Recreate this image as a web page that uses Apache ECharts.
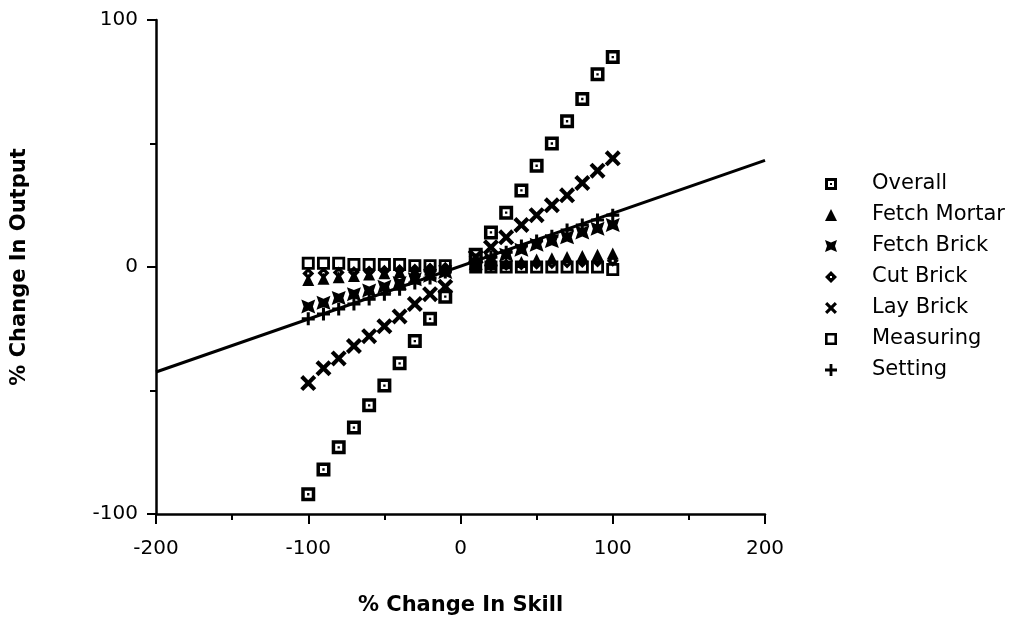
<!DOCTYPE html>
<html>
<head>
<meta charset="utf-8">
<script src="https://cdn.jsdelivr.net/npm/echarts@6/dist/echarts.min.js"></script>
<style>
  html, body { margin: 0; padding: 0; background: #fff; }
  #chart { width: 1016px; height: 619px; }
</style>
</head>
<body>
<div id="chart"></div>
<script>
// % change in skill for each task (x positions)
const skill = [-100, -90, -80, -70, -60, -50, -40, -30, -20, -10,
               10, 20, 30, 40, 50, 60, 70, 80, 90, 100];

// % change in output for each task
const overall     = [-92, -82, -73, -65, -56, -48, -39, -30, -21, -12,
                     5, 14, 22, 31, 41, 50, 59, 68, 78, 85];
const fetchMortar = [-5.3, -4.8, -4.2, -3.6, -3, -2.5, -2, -1.5, -1, -0.5,
                     0.5, 1, 1.5, 2, 3, 3.5, 4, 4.5, 5, 5.5];
const fetchBrick  = [-16, -14.5, -12.5, -11, -9.5, -8, -6.5, -5, -3.5, -2,
                     1.5, 3, 5, 7, 9, 10.5, 12, 14, 15.5, 17];
const cutBrick    = [-2.6, -2.4, -2.2, -2, -1.8, -1.5, -1.2, -1, -0.6, -0.3,
                     0.3, 0.5, 0.8, 1, 1.3, 1.5, 1.8, 2, 2.2, 2.5];
const layBrick    = [-47, -41, -37, -32, -28, -24, -20, -15, -11, -8,
                     4, 8, 12, 17, 21, 25, 29, 34, 39, 44];
const measuring   = [1.5, 1.5, 1.5, 1, 1, 1, 1, 0.5, 0.5, 0.5,
                     0, 0, 0, 0, 0, 0, 0, 0, 0, -1];
const setting     = [-21, -19, -17, -15, -13, -11, -9, -6.5, -4.5, -2,
                     2, 4, 6, 8.5, 10.5, 12.5, 15, 17, 19, 21];

// fitted trend line end points
const trendX = [-200, 200];
const trendY = [-42.5, 43.2];

const xTicks = { min: -200, max: 200, step: 50, labelStep: 100 };
const yTicks = { min: -100, max: 100, step: 50, labelStep: 100 };

const names = ['Overall', 'Fetch Mortar', 'Fetch Brick', 'Cut Brick', 'Lay Brick', 'Measuring', 'Setting'];

// marker shapes (filled paths; inner contours wound the other way to punch holes)
const symOverall  = 'path://M0,0 H12 V12 H0 Z M3,3 V9 H9 V3 Z M5,5 H7 V7 H5 Z';
const symMeasure  = 'path://M0,0 H12 V12 H0 Z M2.6,2.6 V9.4 H9.4 V2.6 Z';
const symMortar   = 'path://M6,0 L12,12 L0,12 Z';
const symFBrick   = 'path://M0,0 L6,2.5 L12,0 L10,6 L12,12 L6,9.5 L0,12 L2,6 Z';
const symCut      = 'path://M6,0 L12,6 L6,12 L0,6 Z M5,5 V7 H7 V5 Z';
const symLay      = 'path://M0,2.2 L2.2,0 L6,3.8 L9.8,0 L12,2.2 L8.2,6 L12,9.8 L9.8,12 L6,8.2 L2.2,12 L0,9.8 L3.8,6 Z';
const symSetting  = 'path://M4.6,0 H7.4 V4.6 H12 V7.4 H7.4 V12 H4.6 V7.4 H0 V4.6 H4.6 Z';

const symbols = [symOverall, symMortar, symFBrick, symCut, symLay, symMeasure, symSetting];
const sizes   = [14, 12, 14, 12, 16, 13, 13];
const values  = [overall, fetchMortar, fetchBrick, cutBrick, layBrick, measuring, setting];

const pts = arr => skill.map((x, i) => [x, arr[i]]);

const scatterSeries = names.map((n, k) => ({
  name: n,
  type: 'scatter',
  symbol: symbols[k],
  symbolSize: sizes[k],
  symbolKeepAspect: true,
  itemStyle: { color: '#000', opacity: 1 },
  data: pts(values[k]),
  z: 3
}));

const font = 'Liberation Sans, Arial, Helvetica, sans-serif';
const wideFont = 'DejaVu Sans, Liberation Sans, sans-serif';

const chart = echarts.init(document.getElementById('chart'), null, { renderer: 'canvas' });
chart.setOption({
  backgroundColor: '#fff',
  animation: false,
  grid: { left: 156, right: 251, top: 20, bottom: 105, containLabel: false, outerBoundsMode: 'none' },
  legend: {
    orient: 'vertical',
    left: 820,
    top: 168,
    data: names.map((n, k) => ({ name: n, icon: symbols[k] })),
    itemWidth: 40,
    itemHeight: 12,
    itemGap: 9,
    selectedMode: false,
    textStyle: { fontFamily: wideFont, fontSize: 21, color: '#000', lineHeight: 22, padding: [0, 0, 0, 16] }
  },
  xAxis: {
    type: 'value',
    min: xTicks.min, max: xTicks.max, interval: xTicks.labelStep,
    name: '% Change In Skill',
    nameLocation: 'middle',
    nameGap: 81,
    nameTextStyle: { fontFamily: wideFont, fontSize: 21, fontWeight: 'bold', color: '#000' },
    axisLine: { show: true, onZero: false, lineStyle: { color: '#000', width: 2.5 } },
    axisTick: { show: true, length: 10, lineStyle: { color: '#000', width: 2 } },
    minorTick: { show: true, splitNumber: xTicks.labelStep / xTicks.step, length: 6, lineStyle: { color: '#000', width: 2 } },
    axisLabel: { fontFamily: wideFont, fontSize: 20, color: '#000', margin: 25 },
    splitLine: { show: false }
  },
  yAxis: {
    type: 'value',
    min: yTicks.min, max: yTicks.max, interval: yTicks.labelStep,
    name: '% Change In Output',
    nameLocation: 'middle',
    nameGap: 126,
    nameRotate: 90,
    nameTextStyle: { fontFamily: wideFont, fontSize: 21, fontWeight: 'bold', color: '#000' },
    axisLine: { show: true, onZero: false, lineStyle: { color: '#000', width: 2.5 } },
    axisTick: { show: true, length: 9, lineStyle: { color: '#000', width: 2 } },
    minorTick: { show: true, splitNumber: yTicks.labelStep / yTicks.step, length: 6, lineStyle: { color: '#000', width: 2 } },
    axisLabel: { fontFamily: wideFont, fontSize: 20, color: '#000', margin: 18 },
    splitLine: { show: false }
  },
  series: [
    {
      name: 'trend',
      type: 'line',
      data: trendX.map((x, i) => [x, trendY[i]]),
      symbol: 'none',
      lineStyle: { color: '#000', width: 3 },
      z: 2,
      silent: true
    },
    ...scatterSeries
  ]
});
</script>
</body>
</html>
